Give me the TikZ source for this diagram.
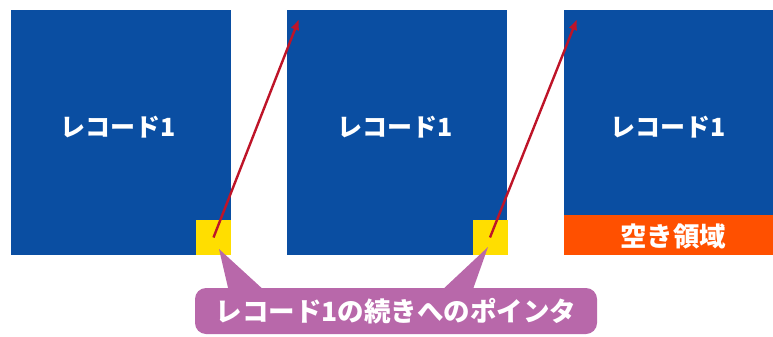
\documentclass[tikz,border=0pt]{standalone}
\usepackage{fontspec}
\newfontfamily\jp{Noto Sans CJK JP}
\usetikzlibrary{arrows.meta}
\definecolor{recblue}{RGB}{10,78,162}
\definecolor{ptryellow}{RGB}{255,222,0}
\definecolor{freeorange}{RGB}{255,80,0}
\definecolor{callpurple}{RGB}{184,104,170}
\definecolor{arrowred}{RGB}{190,20,40}
\tikzset{
  recbox/.style={fill=recblue, draw=none, minimum width=220pt, minimum height=245pt, inner sep=0pt, outer sep=0pt},
  ptrbox/.style={fill=ptryellow, draw=none, minimum width=35pt, minimum height=35pt, inner sep=0pt, outer sep=0pt},
  lbl/.style={text=white, font=\jp\bfseries\fontsize{25}{25}\selectfont, inner sep=0pt},
  biglbl/.style={text=white, font=\jp\bfseries\fontsize{26.5}{26.5}\selectfont, inner sep=0pt},
  link/.style={draw=arrowred, line width=2.4pt, -{Latex[length=11pt,width=9pt]}},
  callout/.style={fill=callpurple, draw=none, rounded corners=11pt, minimum width=402pt, minimum height=46pt, inner sep=0pt}
}
\begin{document}
\begin{tikzpicture}[x=1pt,y=-1pt]
\useasboundingbox (0,0) rectangle (773,337);
% record boxes
\node[recbox] (b1) at (121,132.5) {};
\node[recbox] (b2) at (397,132.5) {};
\node[fill=recblue, inner sep=0pt, outer sep=0pt, minimum width=209pt, minimum height=245pt] (b3) at (668.5,132.5) {};
\node[fill=freeorange, inner sep=0pt, outer sep=0pt, minimum width=209pt, minimum height=40pt] (free) at (668.5,235) {};
% labels
\node[lbl] (t1) at (118,127) {レコード1};
\node[lbl] (t2) at (395,127) {レコード1};
\node[lbl] (t3) at (668,127) {レコード1};
\node[biglbl] (t4) at (673,236) {空き領域};
% pointer squares
\node[ptrbox] (p1) at (213.5,237.5) {};
\node[ptrbox] (p2) at (490,237.5) {};
% arrow targets
\coordinate (a2) at (299,19);
\coordinate (a3) at (577,19);
\draw[link] (p1.center) -- (a2);
\draw[link] (p2.center) -- (a3);
% callout
\node[callout] (c) at (396,311) {};
\coordinate (l1) at (229,292);
\coordinate (l2) at (266,292);
\coordinate (lt) at (219,249);
\coordinate (r1) at (440,292);
\coordinate (r2) at (472,292);
\coordinate (rt) at (488,247);
\fill[callpurple] (l1) -- (lt) -- (l2) -- cycle;
\fill[callpurple] (r1) -- (rt) -- (r2) -- cycle;
\node[biglbl] (ct) at (c.center) {レコード1の続きへのポインタ};
\end{tikzpicture}
\end{document}
